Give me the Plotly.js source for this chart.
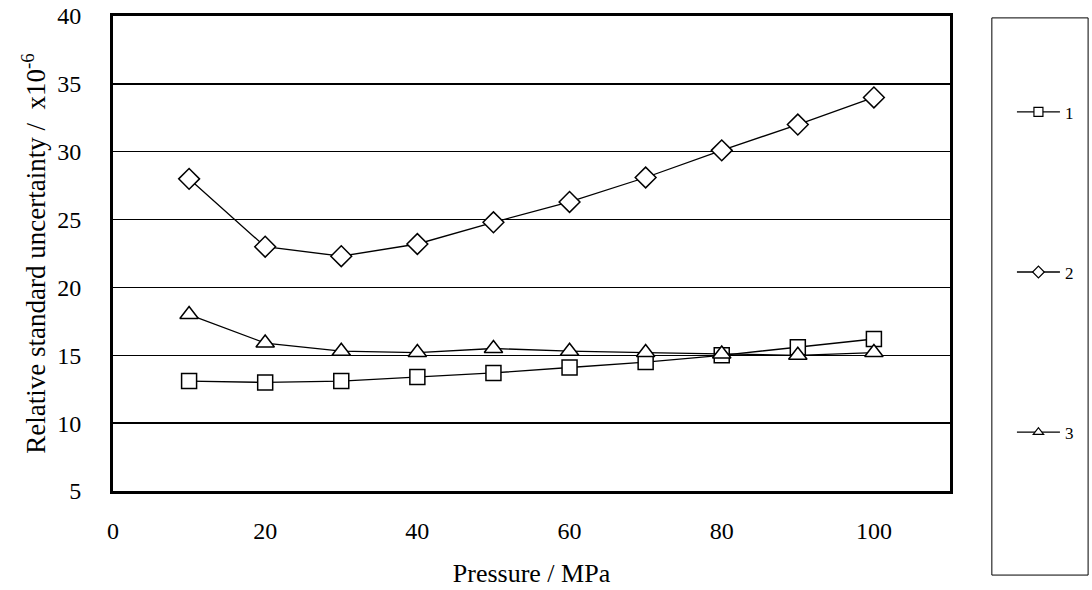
<!DOCTYPE html>
<html>
<head>
<meta charset="utf-8">
<script src="https://cdn.plot.ly/plotly-3.0.1.min.js"></script>
<style>html,body{margin:0;padding:0;background:#fff;}#chart{width:1092px;height:590px;}</style>
</head>
<body>
<div id="chart"></div>
<script>
const pressure = [10, 20, 30, 40, 50, 60, 70, 80, 90, 100];
const series1 = [13.1, 13.0, 13.1, 13.4, 13.7, 14.1, 14.5, 15.0, 15.6, 16.2];
const series2 = [28.0, 23.0, 22.3, 23.2, 24.8, 26.3, 28.1, 30.1, 32.0, 34.0];
const series3 = [18.0, 15.9, 15.3, 15.2, 15.5, 15.3, 15.2, 15.1, 15.0, 15.2];
const seriesNames = ['1', '2', '3'];
const xTicks = [0, 20, 40, 60, 80, 100];
const yTicks = [5, 10, 15, 20, 25, 30, 35, 40];

const FONT = 'Liberation Serif, Times New Roman, serif';
const symbols = ['square', 'diamond', 'triangle-up'];
const sizes = [15, 16, 16];
const data = [series1, series2, series3];

const traces = [];
data.forEach((ys, i) => {
  traces.push({
    x: pressure, y: ys, type: 'scatter', mode: 'lines+markers',
    name: seriesNames[i], showlegend: false,
    line: {color: '#000', width: 1.3},
    marker: {symbol: symbols[i], size: sizes[i], color: '#fff', line: {color: '#000', width: 1.5}}
  });
});
data.forEach((ys, i) => {
  traces.push({
    x: [null], y: [null], type: 'scatter', mode: 'lines+markers',
    name: seriesNames[i], legendgroup: 'g' + i, showlegend: true,
    line: {color: '#000', width: 1.3},
    marker: {symbol: symbols[i], size: 9, color: '#fff', line: {color: '#000', width: 1.2}}
  });
});

const layout = {
  width: 1092, height: 590,
  margin: {l: 113, r: 142, t: 16, b: 99},
  paper_bgcolor: '#fff', plot_bgcolor: '#fff',
  font: {family: FONT, color: '#000', size: 24},
  showlegend: true,
  legend: {
    x: 1.074, y: 0.835, xanchor: 'left', yanchor: 'top',
    traceorder: 'grouped', tracegroupgap: 135, itemwidth: 43,
    bgcolor: 'rgba(0,0,0,0)', borderwidth: 0,
    font: {family: FONT, size: 17, color: '#000'}
  },
  xaxis: {
    range: [0, 110], tickvals: xTicks, ticktext: xTicks.map(String),
    showgrid: false, zeroline: false,
    showline: true, linecolor: '#000', linewidth: 3, mirror: true,
    ticks: '', ticklabelstandoff: 16, tickfont: {family: FONT, size: 24},
    title: {text: 'Pressure / MPa', font: {family: FONT, size: 26}, standoff: 22}
  },
  yaxis: {
    range: [5, 40], tickvals: yTicks, ticktext: yTicks.map(String),
    showgrid: true, gridcolor: '#000', gridwidth: 1.3, zeroline: false,
    showline: true, linecolor: '#000', linewidth: 3, mirror: true,
    ticks: 'inside', ticklen: 5, tickwidth: 1.5, tickcolor: '#000',
    ticklabelstandoff: 24, tickfont: {family: FONT, size: 24},
    title: {text: 'Relative standard uncertainty /  x10<sup>-6</sup>', font: {family: FONT, size: 27}, standoff: 4}
  },
  shapes: [{
    type: 'rect', xref: 'paper', yref: 'paper',
    x0: 1.050, x1: 1.165, y0: -0.177, y1: 0.996,
    line: {color: '#000', width: 1}, fillcolor: 'rgba(0,0,0,0)'
  }]
};

Plotly.newPlot('chart', traces, layout, {displayModeBar: false, staticPlot: true});
</script>
</body>
</html>
